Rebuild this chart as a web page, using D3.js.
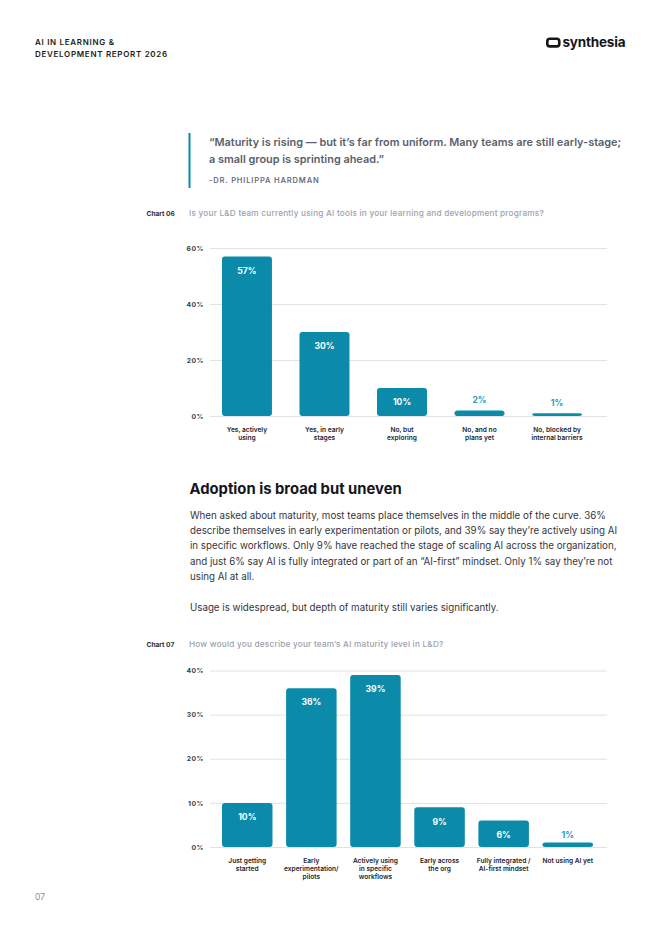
<!DOCTYPE html>
<html><head><meta charset="utf-8">
<script src="https://cdn.jsdelivr.net/npm/d3@7/dist/d3.min.js"></script>
<style>
html,body{margin:0;padding:0;background:#fff;}
svg{display:block;font-family:Inter, "Noto Sans", sans-serif;}
</style></head>
<body><svg id="page" width="662" height="936"></svg>
<script>
// ---- data ----
const chart06Categories = [["Yes, actively","using"],["Yes, in early","stages"],["No, but","exploring"],["No, and no","plans yet"],["No, blocked by","internal barriers"]];
const chart06Values = [57, 30, 10, 2, 1];
const chart06Ticks = [0, 20, 40, 60];
const chart07Categories = [["Just getting","started"],["Early","experimentation/","pilots"],["Actively using","in specific","workflows"],["Early across","the org"],["Fully integrated /","AI-first mindset"],["Not using AI yet"]];
const chart07Values = [10, 36, 39, 9, 6, 1];
const chart07Ticks = [0, 10, 20, 30, 40];
const headerLines = ["AI IN LEARNING &", "DEVELOPMENT REPORT 2026"];
const quoteLines = ["\u201cMaturity is rising \u2014 but it\u2019s far from uniform. Many teams are still early-stage;", "a small group is sprinting ahead.\u201d"];
const quoteAuthor = "-DR. PHILIPPA HARDMAN";
const heading = "Adoption is broad but uneven";
const paragraphLines = [
 "When asked about maturity, most teams place themselves in the middle of the curve. 36%",
 "describe themselves in early experimentation or pilots, and 39% say they\u2019re actively using AI",
 "in specific workflows. Only 9% have reached the stage of scaling AI across the organization,",
 "and just 6% say AI is fully integrated or part of an \u201cAI-first\u201d mindset. Only 1% say they\u2019re not",
 "using AI at all."];
const paragraphLast = "Usage is widespread, but depth of maturity still varies significantly.";
const chart06Label = "Chart 06", chart06Question = "Is your L&D team currently using AI tools in your learning and development programs?";
const chart07Label = "Chart 07", chart07Question = "How would you describe your team\u2019s AI maturity level in L&D?";

// ---- styles ----
const TEAL = "#0b8aaa", TEAL_LIGHT = "#2a9cbc", GRID = "#dfe2e8";
const svg = d3.select("#page");

// header
svg.selectAll("text.hdr").data(headerLines).join("text")
  .attr("x", 35).attr("y", (d,i)=>45 + i*11.5)
  .attr("font-size", 8).attr("font-weight", 600).attr("letter-spacing", 0.7)
  .attr("fill", "#1b1c20").text(d=>d);

// logo
const logo = svg.append("g");
logo.append("rect").attr("x", 547.3).attr("y", 38.8).attr("width", 12).attr("height", 7.6).attr("rx", 2.6)
  .attr("fill", "none").attr("stroke", "#15161a").attr("stroke-width", 2.6);
logo.append("rect").attr("x", 549.5).attr("y", 41.4).attr("width", 4.5).attr("height", 2.4).attr("fill", "#fff");
logo.append("text").attr("x", 562.5).attr("y", 46.8).attr("font-size", 13.5).attr("font-weight", 700)
  .attr("letter-spacing", -0.2).attr("fill", "#15161a").text("synthesia");

// quote
svg.append("rect").attr("x", 188.5).attr("y", 133).attr("width", 2).attr("height", 55).attr("fill", TEAL);
svg.selectAll("text.q").data(quoteLines).join("text")
  .attr("x", 209).attr("y", (d,i)=>146 + i*16.8)
  .attr("font-size", 10.9).attr("font-weight", 600).attr("fill", "#5a5f6b").text(d=>d);
svg.append("text").attr("x", 209).attr("y", 183).attr("font-size", 7.6).attr("font-weight", 600)
  .attr("letter-spacing", 0.8).attr("fill", "#6a6f7c").text(quoteAuthor);

// heading + paragraph
svg.append("text").attr("x", 189.5).attr("y", 494).attr("font-size", 14.8).attr("font-weight", 700)
  .attr("fill", "#15161a").text(heading);
svg.selectAll("text.p").data(paragraphLines).join("text")
  .attr("x", 190).attr("y", (d,i)=>518.5 + i*15.4)
  .attr("font-size", 9.75).attr("fill", "#33353b").text(d=>d);
svg.append("text").attr("x", 190).attr("y", 610.8).attr("font-size", 9.75).attr("fill", "#33353b").text(paragraphLast);

// page number
svg.append("text").attr("x", 35).attr("y", 900).attr("font-size", 8.5).attr("fill", "#8a8e98").text("07");

function barChart(opts) {
  const {label, question, titleY, cats, vals, ticks, y0, yTop, x0, x1, pad, outsideOffset} = opts;
  svg.append("text").attr("x", 146.5).attr("y", titleY).attr("font-size", 6.6).attr("font-weight", 700)
    .attr("fill", "#2a2c33").text(label);
  svg.append("text").attr("x", 189).attr("y", titleY).attr("font-size", 8.2).attr("font-weight", 500)
    .attr("letter-spacing", 0.23).attr("fill", "#9ca1b0").text(question);

  const y = d3.scaleLinear().domain([0, d3.max(ticks)]).range([y0, yTop]);
  const x = d3.scaleBand().domain(d3.range(vals.length)).range([x0, x1]).paddingInner(pad).paddingOuter(pad/2);
  const g = svg.append("g");
  // grid
  const axis = d3.axisLeft(y).tickValues(ticks).tickSize(-(607 - 210)).tickFormat(d=>d + "%").tickPadding(6);
  const ag = g.append("g").attr("transform", "translate(210,0)").call(axis);
  ag.select(".domain").remove();
  ag.selectAll(".tick line").attr("stroke", GRID).attr("stroke-width", 1);
  ag.selectAll(".tick text").attr("font-size", 6.8).attr("font-weight", 700).attr("letter-spacing", 0.5)
    .attr("fill", "#3a3c44").attr("font-family", "Inter, sans-serif");

  g.selectAll("rect.bar").data(vals).join("rect")
    .attr("x", (d,i)=>x(i)).attr("width", x.bandwidth())
    .attr("y", d=>y(d)).attr("height", d=>y0 - y(d))
    .attr("rx", 3).attr("fill", TEAL);

  g.selectAll("text.val").data(vals).join("text")
    .attr("x", (d,i)=>x(i) + x.bandwidth()/2)
    .attr("y", d=> d >= 5 ? y(d) + 17.3 : y(d) - outsideOffset)
    .attr("text-anchor", "middle").attr("font-size", 8.6).attr("font-weight", 700)
    .attr("fill", d=> d >= 5 ? "#ffffff" : TEAL_LIGHT).text(d=>d + "%");

  cats.forEach((lines, i)=>{
    g.append("text").attr("text-anchor", "middle").attr("font-size", 6.6).attr("font-weight", 600)
      .attr("fill", "#23252b")
      .selectAll("tspan").data(lines).join("tspan")
      .attr("x", x(i) + x.bandwidth()/2).attr("y", (d,j)=>y0 + 15.6 + j*8.3).text(d=>d);
  });
}

barChart({label: chart06Label, question: chart06Question, titleY: 216, cats: chart06Categories, vals: chart06Values,
  ticks: chart06Ticks, y0: 416, yTop: 248, x0: 208.2, x1: 595.8, pad: 0.355, outsideOffset: 7});
barChart({label: chart07Label, question: chart07Question, titleY: 647, cats: chart07Categories, vals: chart07Values,
  ticks: chart07Ticks, y0: 847, yTop: 670.5, x0: 215.2, x1: 599.8, pad: 0.212, outsideOffset: 5});
</script></body></html>
